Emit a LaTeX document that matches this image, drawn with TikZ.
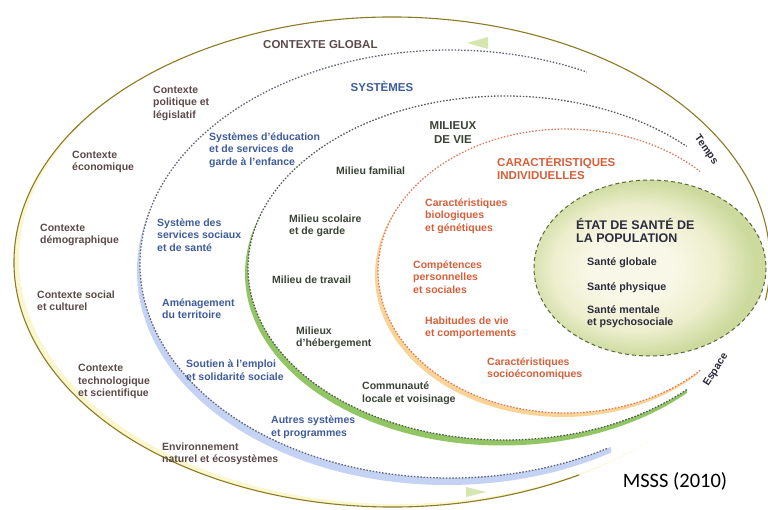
\documentclass[tikz,border=0pt]{standalone}
\usepackage{fontspec}
\setmainfont{Liberation Sans}
\newfontfamily\msssfont{Carlito}
\definecolor{ctxc}{RGB}{92,74,74}
\definecolor{sysc}{RGB}{62,92,156}
\definecolor{milc}{RGB}{58,68,54}
\definecolor{carc}{RGB}{214,96,58}
\definecolor{etac}{RGB}{44,44,60}
\definecolor{olivec}{RGB}{140,122,36}
\definecolor{glowy}{RGB}{250,247,206}
\definecolor{bandb}{RGB}{196,210,244}
\definecolor{bandg}{RGB}{146,198,100}
\definecolor{bando}{RGB}{249,212,150}
\definecolor{dotgray}{RGB}{96,100,118}
\definecolor{dotmil}{RGB}{82,90,82}
\definecolor{dotcar}{RGB}{226,122,92}
\definecolor{etaedge}{RGB}{88,104,56}
\definecolor{etain}{RGB}{249,248,232}
\definecolor{etamid}{RGB}{236,238,204}
\definecolor{etaout}{RGB}{204,218,158}
\definecolor{arrowg}{RGB}{214,230,176}
\pgfdeclareradialshading{etashade}{\pgfpoint{-5bp}{0bp}}{color(0bp)=(etain); color(9bp)=(etain); color(18bp)=(etamid); color(25bp)=(etaout); color(50bp)=(etaout)}
\newcommand\mylines[1]{\begin{tabular}[t]{@{}l@{}}#1\end{tabular}}
\newcommand\mylinesc[1]{\begin{tabular}[t]{@{}c@{}}#1\end{tabular}}
\begin{document}
\begin{tikzpicture}[x=1pt,y=-1pt,
  lbl/.style={inner sep=0pt, anchor=base west, font=\bfseries\fontsize{10.5}{12.5}\selectfont},
  ctx/.style={lbl, text=ctxc},
  sys/.style={lbl, text=sysc},
  mil/.style={lbl, text=milc},
  car/.style={lbl, text=carc},
  eta/.style={lbl, text=etac, font=\bfseries\fontsize{10.7}{12}\selectfont},
  head/.style={inner sep=0pt, font=\bfseries\fontsize{11.5}{13.5}\selectfont},
  dotline/.style={line width=1.3pt, dash pattern=on 1.5pt off 1.7pt},
  axis/.style={inner sep=0pt, font=\bfseries\fontsize{10.5}{12}\selectfont, text=etac}]
\useasboundingbox (0,0) rectangle (768,510);
\fill[white] (0,0) rectangle (768,510);

% --- coloured bands (crescents) ---
\begin{scope}
  \clip (392,262) ellipse [x radius=378, y radius=245];
  \fill[glowy, even odd rule] (0,0) rectangle (768,510) (397,259) ellipse [x radius=378, y radius=245];
\end{scope}
\begin{scope}
  \clip (0,0) rectangle (611,510);
  \clip (447,271) ellipse [x radius=310, y radius=214];
  \fill[bandb, even odd rule] (0,0) rectangle (768,510) (450,264) ellipse [x radius=310, y radius=214];
\end{scope}
\begin{scope}
  \clip (0,0) rectangle (687,510);
  \clip (502,273.5) ellipse [x radius=257, y radius=172];
  \fill[bandg, even odd rule] (0,0) rectangle (768,510) (505,268) ellipse [x radius=257, y radius=172];
\end{scope}
\begin{scope}
  \clip (0,0) rectangle (698,510);
  \clip (563,275) ellipse [x radius=188, y radius=142];
  \fill[bando, even odd rule] (0,0) rectangle (768,510) (566,271) ellipse [x radius=188, y radius=142];
\end{scope}

% --- outlines ---
\draw[olivec, line width=1.1pt] (392,262) ++(60.3:378 and 245)
  arc[start angle=60.3, end angle=369, x radius=378, y radius=245];
\draw[dotline, dotgray] (450,264) ++(59.6:310 and 214)
  arc[start angle=59.6, end angle=296.2, x radius=310, y radius=214];
\draw[dotline, dotmil] (505,268) ++(45:257 and 172)
  arc[start angle=45, end angle=315, x radius=257, y radius=172];
\draw[dotline, dotcar] (566,271) ++(44.4:188 and 142)
  arc[start angle=44.4, end angle=315.5, x radius=188, y radius=142];

% --- état de santé ellipse ---
\shade[shading=etashade] (650,268) ellipse [x radius=116, y radius=88];
\draw[etaedge, line width=1pt, dash pattern=on 4pt off 3pt] (650,268) ellipse [x radius=116, y radius=88];

% --- pale arrowheads ---
\fill[arrowg] (467,43) -- (488,37) -- (488,49) -- cycle;
\fill[arrowg] (486,492) -- (466,487) -- (466,497) -- cycle;

% --- headers ---
\node[head, text=ctxc, anchor=base west] (cg) at (263,49) {CONTEXTE GLOBAL};
\node[head, text=sysc, anchor=base] (sy) at (382,92) {SYSTÈMES};
\node[head, text=milc, anchor=base] (mv) at (453,130) {\mylinesc{MILIEUX\\DE VIE}};
\node[head, text=carc, anchor=base west, font=\bfseries\fontsize{11.5}{12.3}\selectfont] (ci) at (497,167) {\mylines{CARACTÉRISTIQUES\\INDIVIDUELLES}};
\node[head, text=etac, anchor=base west, font=\bfseries\fontsize{12.5}{13.2}\selectfont] (es) at (576,229.5) {\mylines{ÉTAT DE SANTÉ DE\\LA POPULATION}};

% --- contexte ---
\node[ctx] (c1) at (153,93.5) {\mylines{Contexte\\politique et\\législatif}};
\node[ctx] (c2) at (72,158.5) {\mylines{Contexte\\économique}};
\node[ctx] (c3) at (40,231.5) {\mylines{Contexte\\démographique}};
\node[ctx] (c4) at (37,298.5) {\mylines{Contexte social\\et culturel}};
\node[ctx] (c5) at (78,371.5) {\mylines{Contexte\\technologique\\et scientifique}};
\node[ctx] (c6) at (162,450) {\mylines{Environnement\\naturel et écosystèmes}};

% --- systèmes ---
\node[sys] (s1) at (209,140.5) {\mylines{Systèmes d’éducation\\et de services de\\garde à l’enfance}};
\node[sys] (s2) at (157,226.5) {\mylines{Système des\\services sociaux\\et de santé}};
\node[sys] (s3) at (162,306.5) {\mylines{Aménagement\\du territoire}};
\node[sys] (s4) at (186,367.5) {\mylines{Soutien à l’emploi\\et solidarité sociale}};
\node[sys] (s5) at (271,423.5) {\mylines{Autres systèmes\\et programmes}};

% --- milieux de vie ---
\node[mil] (m1) at (336,174.5) {Milieu familial};
\node[mil] (m2) at (289,222.5) {\mylines{Milieu scolaire\\et de garde}};
\node[mil] (m3) at (272,283.5) {Milieu de travail};
\node[mil] (m4) at (296,334.5) {\mylines{Milieux\\d’hébergement}};
\node[mil] (m5) at (362,389.5) {\mylines{Communauté\\locale et voisinage}};

% --- caractéristiques individuelles ---
\node[car] (k1) at (425,206.5) {\mylines{Caractéristiques\\biologiques\\et génétiques}};
\node[car] (k2) at (413,268.5) {\mylines{Compétences\\personnelles\\et sociales}};
\node[car] (k3) at (425,324.5) {\mylines{Habitudes de vie\\et comportements}};
\node[car] (k4) at (487,365.5) {\mylines{Caractéristiques\\socioéconomiques}};

% --- état de santé ---
\node[eta] (e1) at (587,265.5) {Santé globale};
\node[eta] (e2) at (587,290.5) {Santé physique};
\node[eta] (e3) at (587,313.5) {\mylines{Santé mentale\\et psychosociale}};

% --- axes ---
\node[axis, rotate=-55] (tp) at (706,150) {Temps};
\node[axis, rotate=58] (ep) at (716,370) {Espace};

% --- source ---
\node[inner sep=0pt, anchor=base, font=\msssfont\fontsize{20.5}{24}\selectfont] (src) at (675,487) {MSSS (2010)};
\end{tikzpicture}
\end{document}
